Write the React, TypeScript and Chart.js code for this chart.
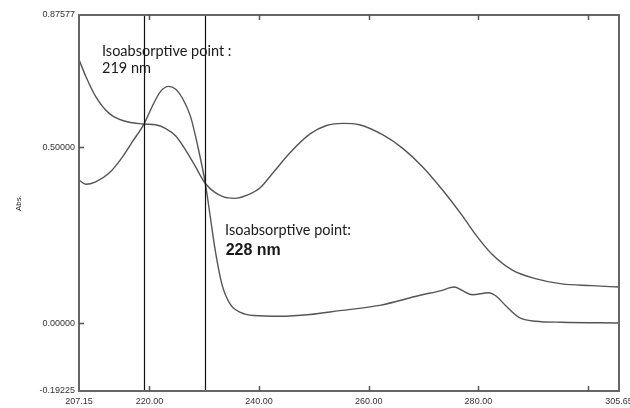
import React, { useEffect, useRef } from "react";
import { Chart, registerables } from "chart.js";

Chart.register(...registerables);

// Spectrum A (starts high, broad band near 255 nm)
const WL_A = [207.15, 208.4, 210.2, 212.6, 215.1, 219.0, 221.1, 222.9, 224.8, 226.6, 228.4, 230.2, 233.5, 235.6, 237.8, 240.2, 242.4, 245.6, 249.3, 252.3, 255.3, 258.3, 262.6, 266.2, 269.8, 273.5, 277.1, 279.5, 282.5, 286.2, 290.4, 295.2, 300.7, 305.65];
const ABS_A = [0.749, 0.701, 0.644, 0.597, 0.576, 0.566, 0.564, 0.554, 0.532, 0.492, 0.445, 0.397, 0.359, 0.355, 0.364, 0.385, 0.425, 0.484, 0.538, 0.562, 0.568, 0.564, 0.535, 0.497, 0.445, 0.378, 0.305, 0.252, 0.196, 0.151, 0.127, 0.112, 0.107, 0.103];

// Spectrum B (peak near 223 nm, near-zero baseline)
const WL_B = [207.15, 208.4, 210.2, 212.6, 215.1, 216.9, 219.0, 220.5, 222.0, 223.5, 224.8, 226.0, 227.5, 228.7, 230.2, 231.1, 232.0, 233.2, 234.7, 236.6, 239.0, 243.8, 249.3, 254.7, 262.0, 269.2, 273.2, 275.6, 277.1, 278.9, 281.9, 283.1, 285.0, 287.4, 290.4, 295.2, 305.65];
const ABS_B = [0.407, 0.395, 0.402, 0.426, 0.473, 0.516, 0.566, 0.616, 0.658, 0.673, 0.665, 0.640, 0.587, 0.511, 0.397, 0.302, 0.207, 0.112, 0.055, 0.031, 0.022, 0.020, 0.025, 0.036, 0.051, 0.079, 0.093, 0.103, 0.093, 0.081, 0.087, 0.079, 0.050, 0.017, 0.006, 0.003, 0.001];

const X_MIN = 207.15;
const X_MAX = 305.65;
const Y_MIN = -0.19225;
const Y_MAX = 0.87577;
const X_TICKS = [207.15, 220, 240, 260, 280, 300, 305.65];
const X_LABELED = [207.15, 220, 240, 260, 280, 305.65];
const Y_TICKS = [-0.19225, 0, 0.5, 0.87577];
const Y_MARKS = [0, 0.5];
const X_MARKS = [220, 240, 260, 280, 300];

// Isoabsorptive marker lines (wavelengths where they are drawn on the axis)
const ISO_LINES = [219.0, 230.2];

// Annotations: text, wavelength, absorbance (baseline)
const NOTE_TEXT = ["Isoabsorptive point :", "219 nm", "Isoabsorptive point:", "228 nm"];
const NOTE_X = [211.35, 211.35, 233.8, 233.9];
const NOTE_Y = [0.758, 0.711, 0.252, 0.193];
const NOTE_BOLD = [false, false, false, true];

const framePlugin = {
  id: "frame",
  afterDatasetsDraw(chart: any) {
    const { ctx, chartArea: a, scales } = chart;
    const xs = scales.x;
    const ys = scales.y;
    ctx.save();
    // vertical isoabsorptive lines
    ctx.strokeStyle = "#111";
    ctx.lineWidth = 1.2;
    ISO_LINES.forEach((w) => {
      const px = Math.round(xs.getPixelForValue(w)) + 0.5;
      ctx.beginPath();
      ctx.moveTo(px, a.top);
      ctx.lineTo(px, a.bottom);
      ctx.stroke();
    });
    // frame
    ctx.strokeStyle = "#666";
    ctx.lineWidth = 2;
    ctx.strokeRect(a.left, a.top, a.right - a.left, a.bottom - a.top);
    // inside ticks
    ctx.lineWidth = 1.5;
    ctx.strokeStyle = "#555";
    X_MARKS.forEach((w) => {
      const px = Math.round(xs.getPixelForValue(w)) + 0.5;
      ctx.beginPath();
      ctx.moveTo(px, a.bottom);
      ctx.lineTo(px, a.bottom - 5);
      ctx.moveTo(px, a.top);
      ctx.lineTo(px, a.top + 5);
      ctx.stroke();
    });
    Y_MARKS.forEach((v) => {
      const py = Math.round(ys.getPixelForValue(v)) + 0.5;
      ctx.beginPath();
      ctx.moveTo(a.left, py);
      ctx.lineTo(a.left + 5, py);
      ctx.stroke();
    });
    // annotations
    ctx.fillStyle = "#1a1a1a";
    ctx.textBaseline = "alphabetic";
    ctx.textAlign = "left";
    NOTE_TEXT.forEach((t, i) => {
      ctx.font = NOTE_BOLD[i]
        ? "bold 16px 'Liberation Sans', Arial, sans-serif"
        : "14.5px Lato, 'Noto Sans', sans-serif";
      ctx.fillText(t, xs.getPixelForValue(NOTE_X[i]), ys.getPixelForValue(NOTE_Y[i]));
    });
    ctx.restore();
  },
};

export default function App() {
  const ref = useRef<HTMLCanvasElement | null>(null);

  useEffect(() => {
    if (!ref.current) return;
    const line = (xs: number[], ys: number[]) => xs.map((x, i) => ({ x, y: ys[i] }));
    const tickFont = { family: "'Liberation Sans', Arial, sans-serif", size: 9 };
    const chart = new Chart(ref.current, {
      type: "line",
      data: {
        datasets: [
          {
            label: "A",
            data: line(WL_A, ABS_A),
            borderColor: "#555",
            borderWidth: 1.4,
            pointRadius: 0,
            cubicInterpolationMode: "monotone",
            fill: false,
          },
          {
            label: "B",
            data: line(WL_B, ABS_B),
            borderColor: "#555",
            borderWidth: 1.4,
            pointRadius: 0,
            cubicInterpolationMode: "monotone",
            fill: false,
          },
        ],
      },
      options: {
        animation: false,
        responsive: false,
        devicePixelRatio: 1,
        layout: { padding: { top: 15, right: 11, left: 0, bottom: 0 } },
        plugins: { legend: { display: false }, tooltip: { enabled: false } },
        scales: {
          x: {
            type: "linear",
            min: X_MIN,
            max: X_MAX,
            afterBuildTicks: (s: any) => {
              s.ticks = X_TICKS.map((v) => ({ value: v }));
            },
            afterFit: (s: any) => {
              s.height = 17;
              s.paddingLeft = 0;
              s.paddingRight = 0;
            },
            grid: { display: false, drawTicks: false },
            border: { display: false },
            ticks: {
              autoSkip: false,
              maxRotation: 0,
              padding: 5,
              font: tickFont,
              color: "#333",
              callback: (v: any) => {
                const n = Number(v);
                if (!X_LABELED.includes(n)) return "";
                return n === X_MIN || n === X_MAX ? String(n) : n.toFixed(2);
              },
            },
          },
          y: {
            min: Y_MIN,
            max: Y_MAX,
            afterBuildTicks: (s: any) => {
              s.ticks = Y_TICKS.map((v) => ({ value: v }));
            },
            afterFit: (s: any) => {
              s.width = 79;
              s.paddingTop = 0;
              s.paddingBottom = 0;
            },
            grid: { display: false, drawTicks: false },
            border: { display: false },
            title: {
              display: true,
              text: "Abs.",
              font: { family: "'Liberation Sans', Arial, sans-serif", size: 8 },
              color: "#222",
              padding: { top: 14, bottom: 0 },
            },
            ticks: {
              autoSkip: false,
              padding: 4,
              font: tickFont,
              color: "#333",
              callback: (v: any) => Number(v).toFixed(5),
            },
          },
        },
      },
      plugins: [framePlugin],
    } as any);
    return () => chart.destroy();
  }, []);

  return (
    <div style={{ position: "fixed", left: 0, top: 0, width: 630, height: 408, background: "#fff" }}>
      <canvas ref={ref} width={630} height={408} style={{ width: 630, height: 408, display: "block" }} />
    </div>
  );
}
